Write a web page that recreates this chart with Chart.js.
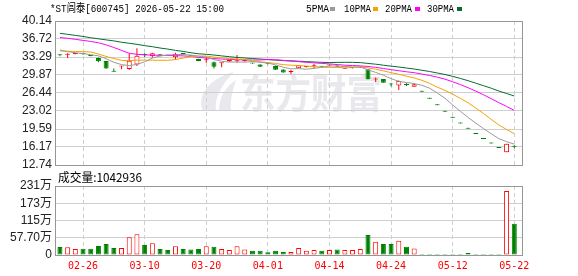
<!DOCTYPE html>
<html><head><meta charset="utf-8"><title>*ST闾泰 K线</title>
<script src="https://cdn.jsdelivr.net/npm/chart.js@4/dist/chart.umd.min.js"></script>
<style>
html,body{margin:0;padding:0;background:#fff;}
#wrap{position:relative;width:578px;height:276px;overflow:hidden;background:#fff}
#c1,#c2{position:absolute;left:0}
#c1{top:0;width:578px;height:176px}
#c2{top:168px;width:578px;height:108px}
</style></head><body><div id="wrap">
<canvas id="c1" width="578" height="176"></canvas>
<canvas id="c2" width="578" height="108"></canvas>
</div>
<script>
const TITLE = '*ST闾泰[600745] 2026-05-22 15:00';
const VOLUME_CAPTION = '成交量:1042936';
const WATERMARK = '东方财富';

const DATES = ['02-23','02-24','02-25','02-26','02-27','03-02','03-03','03-04','03-05','03-06',
'03-09','03-10','03-11','03-12','03-13','03-16','03-17','03-18','03-19','03-20',
'03-23','03-24','03-25','03-26','03-27','03-30','03-31','04-01','04-02','04-03',
'04-07','04-08','04-09','04-10','04-13','04-14','04-15','04-16','04-17','04-20',
'04-21','04-22','04-23','04-24','04-27','04-28','04-29','04-30','05-07','05-08',
'05-11','05-12','05-13','05-14','05-15','05-18','05-19','05-20','05-21','05-22'];

const OPEN = [33.70,33.70,33.85,33.95,33.55,33.10,32.55,30.60,31.50,31.00,
31.85,33.75,33.50,33.65,33.60,33.25,33.90,33.50,32.90,32.65,
32.30,32.10,32.45,32.50,32.55,32.15,31.85,32.05,31.60,30.90,
30.45,31.15,31.40,31.55,31.50,31.65,31.60,31.05,31.20,31.30,
30.95,29.00,29.10,28.15,27.85,28.05,27.65,26.70,25.36,24.09,
22.89,21.74,20.66,19.62,18.64,17.71,16.82,15.98,15.18,16.35];
const CLOSE = [33.60,33.80,33.90,33.85,33.50,32.50,31.10,30.50,31.60,32.60,
33.55,33.65,34.00,33.60,33.55,33.85,33.85,33.45,32.55,32.75,
31.45,32.20,32.70,32.60,32.60,32.05,31.45,32.00,30.85,30.35,
30.50,31.70,31.45,31.60,31.45,31.75,31.50,31.10,31.25,31.35,
29.05,29.05,28.40,28.05,28.70,27.95,28.10,26.70,25.36,24.09,
22.89,21.74,20.66,19.62,18.64,17.71,16.82,15.98,16.78,16.20];
const HIGH = [33.80,34.00,34.00,34.05,33.55,33.20,32.55,31.10,31.60,34.00,
34.95,34.00,34.10,33.80,33.65,34.10,34.05,33.60,32.95,33.35,
32.45,32.20,32.75,33.65,32.80,32.20,31.90,32.20,31.65,30.95,
30.80,31.75,31.60,32.00,31.55,31.80,31.75,31.15,31.40,31.50,
30.95,29.40,29.10,28.40,28.80,28.30,28.30,26.70,25.36,24.09,
22.89,21.74,20.66,19.62,18.64,17.71,16.82,15.98,16.78,16.50];
const LOW = [33.45,33.10,33.80,33.70,33.45,32.30,31.05,30.50,30.95,30.85,
31.60,33.30,33.20,33.45,33.50,32.75,33.70,33.30,32.50,32.20,
31.10,31.35,32.40,32.20,32.40,32.00,31.40,31.85,30.80,30.30,
30.05,31.10,31.30,31.10,31.40,31.60,31.35,31.00,31.10,31.20,
29.00,28.55,28.40,27.70,27.00,27.75,27.65,26.70,25.36,24.09,
22.89,21.74,20.66,19.62,18.64,17.71,16.82,15.98,15.18,15.95];

const VOLUME = [268000,258000,200000,210000,210000,300000,370000,234000,234000,590000,
690000,335000,390000,200000,167000,290000,200000,180000,200000,290000,
275000,200000,167000,290000,180000,145000,145000,90000,145000,100000,
100000,234000,145000,167000,145000,167000,180000,167000,167000,200000,
670000,446000,370000,370000,480000,280000,220000,35000,35000,35000,
35000,35000,35000,67000,35000,35000,35000,35000,2137000,1042936];

const MA5 = [34.60,34.30,34.10,33.95,33.73,33.51,32.97,32.29,31.84,31.66,
31.87,32.38,33.08,33.48,33.67,33.73,33.77,33.66,33.45,33.29,
32.81,32.48,32.33,32.34,32.31,32.43,32.28,32.14,31.79,31.34,
31.03,31.08,30.97,31.12,31.34,31.59,31.55,31.48,31.41,31.39,
30.85,30.36,29.82,29.18,28.65,28.43,28.24,27.90,27.36,26.44,
25.43,24.16,22.95,21.80,20.71,19.67,18.69,17.75,17.19,16.70];
const MA10 = [34.45,34.40,34.35,34.30,34.25,33.85,33.40,33.00,32.65,32.60,
32.69,32.68,32.69,32.66,32.67,32.80,33.08,33.37,33.47,33.48,
33.27,33.13,33.00,32.90,32.80,32.62,32.38,32.24,32.07,31.83,
31.73,31.68,31.56,31.46,31.34,31.31,31.32,31.23,31.27,31.37,
31.22,30.96,30.65,30.30,30.02,29.64,29.30,28.86,28.27,27.55,
26.93,26.20,25.42,24.58,23.58,22.55,21.42,20.35,19.49,18.70];
const MA20 = [37.00,36.85,36.65,36.45,36.25,36.00,35.60,35.10,34.55,34.00,
33.80,33.70,33.65,33.60,33.60,33.55,33.50,33.40,33.20,33.09,
32.98,32.90,32.84,32.78,32.73,32.71,32.73,32.80,32.77,32.65,
32.50,32.40,32.28,32.18,32.07,31.97,31.85,31.73,31.67,31.60,
31.48,31.32,31.10,30.88,30.68,30.48,30.31,30.04,29.77,29.46,
29.07,28.58,28.04,27.44,26.80,26.10,25.36,24.61,23.88,23.12];
const MA30 = [37.80,37.60,37.40,37.20,36.95,36.75,36.55,36.35,36.10,35.90,
35.70,35.45,35.25,35.00,34.80,34.55,34.35,34.10,33.90,33.80,
33.67,33.50,33.35,33.20,33.10,33.00,32.90,32.80,32.70,32.60,
32.56,32.49,32.41,32.34,32.27,32.24,32.26,32.28,32.27,32.22,
32.07,31.92,31.73,31.55,31.39,31.19,31.00,30.77,30.53,30.25,
29.96,29.61,29.21,28.78,28.31,27.83,27.35,26.81,26.34,25.87];

const PRICE_TICKS = [12.74,16.17,19.59,23.02,26.44,29.87,33.29,36.72,40.14];
const VOL_TICKS = [0,577000,1154000,1731000,2308000];
const VOL_TICK_LABELS = ['0','57.70万','115万','173万','231万'];
const DATE_TICKS = ['02-26','03-10','03-20','04-01','04-14','04-24','05-12','05-22'];
const LEGEND_LABELS = ['5PMA','10PMA','20PMA','30PMA'];

const RED = '#ff0000', GREEN = '#008000';
const MA_COLORS = ['#9a9a9a','#f4a300','#ff00ff','#006e32'];
const GRID = '#cfcfcf', FRAME = '#969696', MARK = '#e9e9ed';

function isUp(i){
  if (CLOSE[i] !== OPEN[i]) return CLOSE[i] > OPEN[i];
  return i === 0 || CLOSE[i] >= CLOSE[i-1];
}
const upColor = (c) => isUp(c.dataIndex) ? RED : GREEN;
const fillColor = (c) => isUp(c.dataIndex) ? '#ffffff' : GREEN;

function xScale(showLabels){
  return {
    type:'linear', min:-0.64, max:60, offset:false,
    grid:{display:true, color:GRID, lineWidth:1, drawTicks:false, offset:false},
    border:{display:false, dash:[4,3]},
    ticks:{display:showLabels, autoSkip:false, maxRotation:0, minRotation:0, padding:5, color:RED,
      font:{family:'"DejaVu Sans Mono", monospace', size:10},
      callback:(v)=> DATES[v] !== undefined ? DATES[v] : ''},
    afterBuildTicks:(s)=>{ s.ticks = DATE_TICKS.map(d=>({value: DATES.indexOf(d)})); },
    afterFit:(s)=>{ s.height = showLabels ? 21 : 0; s.paddingLeft = 0; s.paddingRight = 0; }
  };
}

function frame(chart){
  const {ctx, chartArea:a} = chart;
  ctx.save();
  ctx.strokeStyle = FRAME; ctx.lineWidth = 1;
  ctx.strokeRect(Math.round(a.left)+0.5, Math.round(a.top)+0.5, Math.round(a.right-a.left), Math.round(a.bottom-a.top));
  ctx.restore();
}

const pricePlugin = {
  id:'priceDecor',
  beforeDraw(chart){
    const ctx = chart.ctx;
    ctx.save();
    // logo swoosh of the watermark
    ctx.fillStyle = MARK;
    ctx.beginPath();
    ctx.moveTo(203, 111);
    ctx.bezierCurveTo(196, 95, 210, 78, 234, 72);
    ctx.bezierCurveTo(222, 84, 214, 98, 216, 111);
    ctx.closePath();
    ctx.fill();
    ctx.beginPath();
    ctx.moveTo(219, 111);
    ctx.bezierCurveTo(219, 97, 226, 86, 236, 80);
    ctx.bezierCurveTo(232, 92, 230, 102, 231, 111);
    ctx.closePath();
    ctx.fill();
    ctx.font = 'bold 40px "Noto Sans CJK SC"';
    ctx.textBaseline = 'middle'; ctx.textAlign = 'left';
    ctx.fillText(WATERMARK, 240, 93, 142);
    ctx.restore();
  },
  afterDraw(chart){
    frame(chart);
    const ctx = chart.ctx;
    ctx.save();
    ctx.fillStyle = '#000';
    ctx.textBaseline = 'middle'; ctx.textAlign = 'left';
    ctx.font = '11px "Liberation Mono", "Noto Sans CJK SC", monospace';
    ctx.fillText(TITLE, 50, 9, 174);
    const lx = [306, 344, 385, 427], lw = [23, 27, 27, 27], sq = [330, 373, 415, 457];
    LEGEND_LABELS.forEach((t, k)=>{
      ctx.fillStyle = '#000';
      ctx.fillText(t, lx[k], 9, lw[k]);
      ctx.fillStyle = MA_COLORS[k];
      ctx.fillRect(sq[k], 7, 5, 4);
    });
    ctx.restore();
  }
};

const volPlugin = {
  id:'volDecor',
  afterDraw(chart){
    frame(chart);
    const ctx = chart.ctx;
    ctx.save();
    ctx.fillStyle = '#000';
    ctx.textBaseline = 'middle'; ctx.textAlign = 'left';
    ctx.font = '12px "Noto Sans CJK SC"';
    ctx.fillText(VOLUME_CAPTION, 58, 9, 84);
    ctx.restore();
  }
};

const maSets = [MA5, MA10, MA20, MA30].map((arr, k)=>({
  type:'line', label:LEGEND_LABELS[k],
  data: arr.map((v,i)=>({x:i, y:v})),
  borderColor: MA_COLORS[k], borderWidth:1, pointRadius:0, tension:0, fill:false, order:0
}));

new Chart(document.getElementById('c1'), {
  type:'bar',
  data:{ datasets:[
    ...maSets,
    { label:'body', data: DATES.map((d,i)=>({x:i, y:[OPEN[i], CLOSE[i]]})),
      backgroundColor: fillColor, borderColor: upColor, borderWidth:1, borderSkipped:false,
      barThickness:5, minBarLength:1, grouped:false, inflateAmount:0, order:1 },
    { label:'wick', data: DATES.map((d,i)=>({x:i, y:[LOW[i], HIGH[i]]})),
      backgroundColor: upColor, borderWidth:0, borderSkipped:false,
      barThickness:1, minBarLength:1, grouped:false, inflateAmount:0, order:2 }
  ]},
  options:{
    responsive:false, animation:false, events:[],
    layout:{padding:{left:0, right:56, top:21, bottom:11}},
    plugins:{legend:{display:false}, tooltip:{enabled:false}},
    scales:{
      x: xScale(false),
      y: { type:'linear', position:'left', min:12.74, max:40.14,
        grid:{color:GRID, drawTicks:false}, border:{display:false},
        ticks:{autoSkip:false, padding:3, color:'#222', font:{family:'"Liberation Sans", Arial, sans-serif', size:12},
          callback:(v)=>Number(v).toFixed(2)},
        afterBuildTicks:(s)=>{ s.ticks = PRICE_TICKS.map(v=>({value:v})); },
        afterFit:(s)=>{ s.width = 55; s.paddingTop = 0; s.paddingBottom = 0; } }
    }
  },
  plugins:[pricePlugin]
});

new Chart(document.getElementById('c2'), {
  type:'bar',
  data:{ datasets:[
    { label:'成交量', data: DATES.map((d,i)=>({x:i, y:VOLUME[i]})),
      backgroundColor: fillColor, borderColor: upColor, borderWidth:1, borderSkipped:false,
      barThickness:5, minBarLength:1, grouped:false, inflateAmount:0 }
  ]},
  options:{
    responsive:false, animation:false, events:[],
    layout:{padding:{left:0, right:56, top:18, bottom:0}},
    plugins:{legend:{display:false}, tooltip:{enabled:false}},
    scales:{
      x: xScale(true),
      y: { type:'linear', position:'left', min:0, max:2308000,
        grid:{color:GRID, drawTicks:false}, border:{display:false},
        ticks:{autoSkip:false, padding:3, color:'#222', font:{family:'"Liberation Sans", "Noto Sans CJK SC", sans-serif', size:12},
          callback:(v)=>{ const k = VOL_TICKS.indexOf(v); return k >= 0 ? VOL_TICK_LABELS[k] : ''; }},
        afterBuildTicks:(s)=>{ s.ticks = VOL_TICKS.map(v=>({value:v})); },
        afterFit:(s)=>{ s.width = 55; s.paddingTop = 0; s.paddingBottom = 0; } }
    }
  },
  plugins:[volPlugin]
});
</script></body></html>
